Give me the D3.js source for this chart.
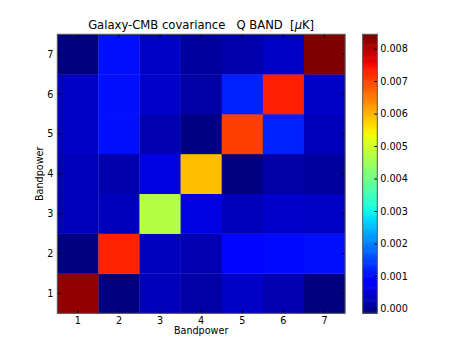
<!DOCTYPE html>
<html>
<head>
<meta charset="utf-8">
<script src="https://cdn.jsdelivr.net/npm/d3@7"></script>
<style>
  body { margin: 0; background: #fff; }
  text { font-family: "DejaVu Sans", sans-serif; fill: #000; }
</style>
</head>
<body>
<div id="chart"></div>
<script>
// bandpower bins (x and y)
const bandpowers = [1, 2, 3, 4, 5, 6, 7];

// covariance rows, one per y bandpower, columns are x bandpower 1..7
const row1 = [0.00830, -0.00015, 0.00030, 0.00015, 0.00040, 0.00025, -0.00015];
const row2 = [-0.00015, 0.00735, 0.00035, 0.00025, 0.00098, 0.00102, 0.00106];
const row3 = [0.00030, 0.00030, 0.00472, 0.00060, 0.00030, 0.00045, 0.00040];
const row4 = [0.00030, 0.00020, 0.00060, 0.00594, -0.00013, 0.00013, 0.00010];
const row5 = [0.00040, 0.00106, 0.00025, -0.00010, 0.00707, 0.00120, 0.00030];
const row6 = [0.00040, 0.00106, 0.00045, 0.00015, 0.00120, 0.00739, 0.00040];
const row7 = [-0.00015, 0.00106, 0.00040, 0.00010, 0.00020, 0.00040, 0.00844];

const cbTicks = [0.000, 0.001, 0.002, 0.003, 0.004, 0.005, 0.006, 0.007, 0.008];

const rows = [row1, row2, row3, row4, row5, row6, row7];

let width = 463
let height = 348

const plot = { left: 57.3, right: 345, top: 34.3, bottom: 313.3 };
const cbar = { left: 362.7, right: 377.3, top: 34.3, bottom: 313.3 };

// matplotlib jet segment data
const jetSeg = {
  r: [[0, 0], [0.35, 0], [0.66, 1], [0.89, 1], [1, 0.5]],
  g: [[0, 0], [0.125, 0], [0.375, 1], [0.64, 1], [0.91, 0], [1, 0]],
  b: [[0, 0.5], [0.11, 1], [0.34, 1], [0.65, 0], [1, 0]]
};
const segScale = s => d3.scaleLinear().domain(s.map(p => p[0])).range(s.map(p => p[1])).clamp(true);
const jr = segScale(jetSeg.r), jg = segScale(jetSeg.g), jb = segScale(jetSeg.b);
const jet = function(t) {
  t = Math.min(255, Math.floor(t * 256)) / 255; // 256 level lut
  return d3.rgb(jr(t) * 255, jg(t) * 255, jb(t) * 255).formatHex();
}

let cells = [];
rows.forEach((r, i) => r.forEach((v, j) => cells.push({ y: bandpowers[i], x: bandpowers[j], v: v })));

const [vmin, vmax] = d3.extent(cells, d => d.v);
const color = d3.scaleSequential(jet).domain([vmin, vmax]);

let svg = d3.select("#chart").append("svg")
  .attr("width", width)
  .attr("height", height)

let x = d3.scaleBand()
  .domain(bandpowers)
  .range([plot.left, plot.right])
  .padding(0);

let y = d3.scaleBand()
  .domain(bandpowers.slice().reverse())
  .range([plot.top, plot.bottom])
  .padding(0);

svg.selectAll('rect.cell')
  .data(cells)
  .enter()
  .append('rect')
  .attr('class', 'cell')
  .attr('x', d => x(d.x))
  .attr('y', d => y(d.y))
  .attr('width', x.bandwidth() + 0.3)
  .attr('height', y.bandwidth() + 0.3)
  .style('fill', d => color(d.v));

// inward ticks on all four sides
const tickLen = 3.5;
bandpowers.forEach(b => {
  let cx = x(b) + x.bandwidth() / 2;
  let cy = y(b) + y.bandwidth() / 2;
  svg.append('line').attr('x1', cx).attr('x2', cx).attr('y1', plot.bottom).attr('y2', plot.bottom - tickLen);
  svg.append('line').attr('x1', cx).attr('x2', cx).attr('y1', plot.top).attr('y2', plot.top + tickLen);
  svg.append('line').attr('y1', cy).attr('y2', cy).attr('x1', plot.left).attr('x2', plot.left + tickLen);
  svg.append('line').attr('y1', cy).attr('y2', cy).attr('x1', plot.right).attr('x2', plot.right - tickLen);
  svg.append('text')
    .attr('x', cx).attr('y', plot.bottom + 10.5)
    .style('text-anchor', 'middle').style('font-size', '9.65px')
    .text(b);
  svg.append('text')
    .attr('x', plot.left - 4).attr('y', cy + 3.5)
    .style('text-anchor', 'end').style('font-size', '9.65px')
    .text(b);
});
svg.selectAll('line').attr('stroke', '#000').attr('stroke-width', 1);

svg.append('rect')
  .attr('x', plot.left).attr('y', plot.top)
  .attr('width', plot.right - plot.left).attr('height', plot.bottom - plot.top)
  .attr('fill', 'none').attr('stroke', '#555').attr('stroke-width', 1);

svg.append('text')
  .attr('x', (plot.left + plot.right) / 2).attr('y', 334)
  .style('text-anchor', 'middle').style('font-size', '9.65px')
  .text('Bandpower');

svg.append('text')
  .attr('transform', `translate(43,${(plot.top + plot.bottom) / 2}) rotate(-90)`)
  .style('text-anchor', 'middle').style('font-size', '9.65px')
  .text('Bandpower');

let title = svg.append('text')
  .attr('x', (plot.left + plot.right) / 2).attr('y', 29)
  .style('text-anchor', 'middle').style('font-size', '11.6px')
  .style('white-space', 'pre')
  .attr('xml:space', 'preserve');
title.append('tspan').text('Galaxy-CMB covariance   Q BAND  [');
title.append('tspan').style('font-style', 'italic').text('\u03bc');
title.append('tspan').text('K]');

// colorbar
let cy = d3.scaleLinear().domain([vmin, vmax]).range([cbar.bottom, cbar.top]);
let steps = d3.range(256);
svg.selectAll('rect.cb')
  .data(steps)
  .enter()
  .append('rect')
  .attr('class', 'cb')
  .attr('x', cbar.left)
  .attr('width', cbar.right - cbar.left)
  .attr('y', d => cy(vmin + (d + 1) / 256 * (vmax - vmin)))
  .attr('height', (cbar.bottom - cbar.top) / 256 + 0.6)
  .style('fill', d => jet(d / 255 + 0.001));

let cbAxis = d3.axisRight(cy)
  .tickValues(cbTicks)
  .tickSize(-3)
  .tickPadding(6)
  .tickFormat(d3.format('.3f'));

let cbG = svg.append('g')
  .attr('transform', `translate(${cbar.right},0)`)
  .call(cbAxis);
cbG.select('.domain').remove();
cbG.selectAll('.tick line').attr('stroke', '#000');
cbG.selectAll('.tick text')
  .attr('x', 3)
  .style('font-family', '"DejaVu Sans", sans-serif')
  .style('font-size', '9.65px');

svg.append('rect')
  .attr('x', cbar.left).attr('y', cbar.top)
  .attr('width', cbar.right - cbar.left).attr('height', cbar.bottom - cbar.top)
  .attr('fill', 'none').attr('stroke', '#555').attr('stroke-width', 1);
</script>
</body>
</html>
